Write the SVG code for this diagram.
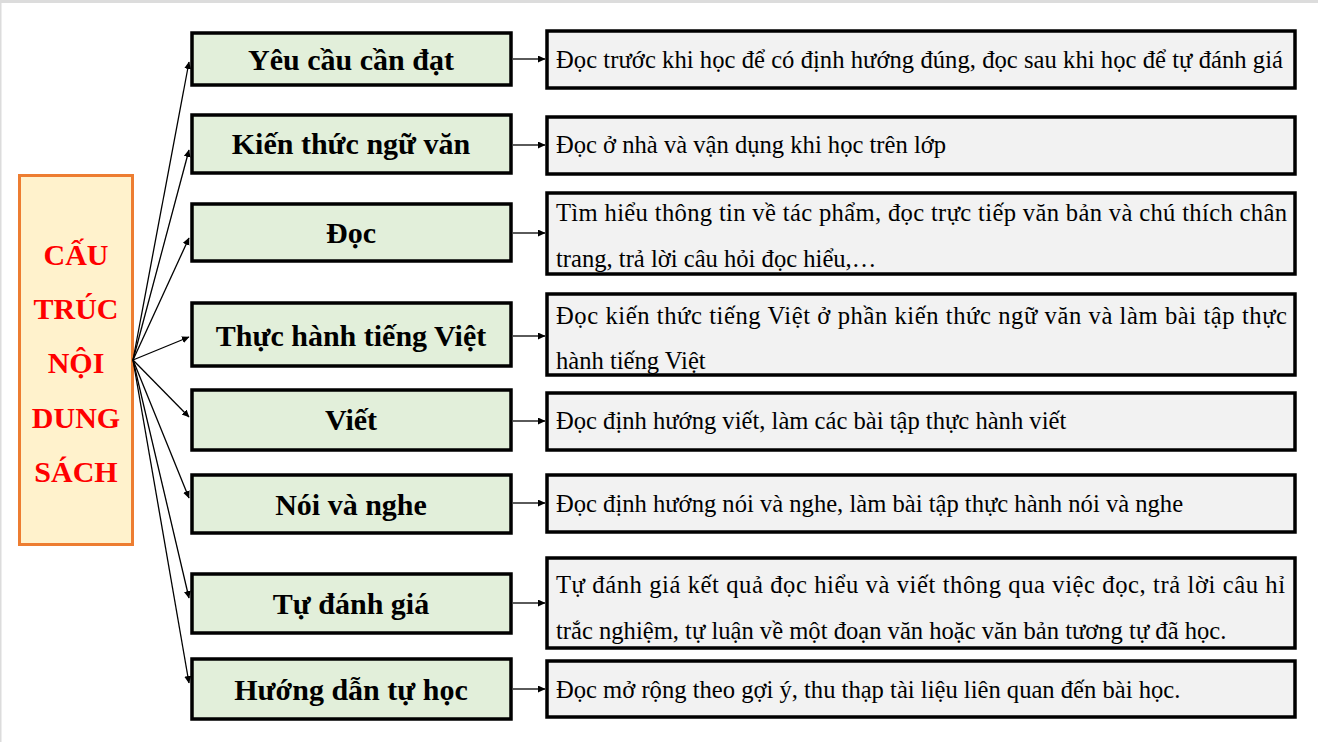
<svg xmlns="http://www.w3.org/2000/svg" width="1318" height="742" viewBox="0 0 1318 742">
<defs>
<marker id="ah" markerWidth="8" markerHeight="8" refX="7" refY="3.5" orient="auto" markerUnits="userSpaceOnUse">
<path d="M0,0 L7.5,3.5 L0,7 Z" fill="#000"/>
</marker>
<style>
.bg{fill:#fff}
.frame{fill:#dcdcdc}
.root{fill:#FFF2CC;stroke:#ED7D31;stroke-width:3}
.cat{fill:#E2EFDA;stroke:#000;stroke-width:3.5}
.desc{fill:#F2F2F2;stroke:#000;stroke-width:3.5}
.rt{font-family:"Liberation Serif","Times New Roman",serif;font-weight:bold;font-size:30px;fill:#FF0000;text-anchor:middle}
.ct{font-family:"Liberation Serif","Times New Roman",serif;font-weight:bold;font-size:30px;fill:#000;text-anchor:middle}
.dt{font-family:"Liberation Serif","Times New Roman",serif;font-size:24.6px;fill:#000}
.con line{stroke:#000;stroke-width:1.3;marker-end:url(#ah)}
</style>
</defs>
<rect class="bg" x="0" y="0" width="1318" height="742"/>
<rect class="frame" x="0" y="0" width="1318" height="3"/>
<rect class="frame" x="0" y="0" width="1.5" height="742"/>

<g id="root">
<rect class="root" x="19.5" y="175.5" width="113" height="369"/>
<text class="rt" x="76" y="265">CẤU</text>
<text class="rt" x="76" y="319">TRÚC</text>
<text class="rt" x="76" y="373">NỘI</text>
<text class="rt" x="76" y="428">DUNG</text>
<text class="rt" x="76" y="482">SÁCH</text>
</g>

<g id="cat1"><rect class="cat" x="192" y="33" width="319" height="52"/><text class="ct" x="351" y="70">Yêu cầu cần đạt</text></g>
<g id="cat2"><rect class="cat" x="192" y="115" width="319" height="58"/><text class="ct" x="351" y="154">Kiến thức ngữ văn</text></g>
<g id="cat3"><rect class="cat" x="192" y="204" width="319" height="57"/><text class="ct" x="351" y="243">Đọc</text></g>
<g id="cat4"><rect class="cat" x="192" y="303" width="319" height="63"/><text class="ct" x="351" y="346">Thực hành tiếng Việt</text></g>
<g id="cat5"><rect class="cat" x="192" y="390" width="319" height="60"/><text class="ct" x="351" y="430">Viết</text></g>
<g id="cat6"><rect class="cat" x="192" y="475" width="319" height="58"/><text class="ct" x="351" y="515">Nói và nghe</text></g>
<g id="cat7"><rect class="cat" x="192" y="574" width="319" height="59"/><text class="ct" x="351" y="614">Tự đánh giá</text></g>
<g id="cat8"><rect class="cat" x="192" y="659" width="319" height="60"/><text class="ct" x="351" y="700">Hướng dẫn tự học</text></g>

<g id="desc1"><rect class="desc" x="547" y="31" width="748" height="57"/><text class="dt" x="556" y="68" textLength="727">Đọc trước khi học để có định hướng đúng, đọc sau khi học để tự đánh giá</text></g>
<g id="desc2"><rect class="desc" x="547" y="117" width="748" height="57"/><text class="dt" x="556" y="153">Đọc ở nhà và vận dụng khi học trên lớp</text></g>
<g id="desc3"><rect class="desc" x="547" y="193" width="748" height="81"/><text class="dt" x="556" y="221" textLength="731">Tìm hiểu thông tin về tác phẩm, đọc trực tiếp văn bản và chú thích chân</text><text class="dt" x="556" y="267">trang, trả lời câu hỏi đọc hiểu,…</text></g>
<g id="desc4"><rect class="desc" x="547" y="294" width="748" height="81"/><text class="dt" x="556" y="324" textLength="731">Đọc kiến thức tiếng Việt ở phần kiến thức ngữ văn và làm bài tập thực</text><text class="dt" x="556" y="369">hành tiếng Việt</text></g>
<g id="desc5"><rect class="desc" x="547" y="393" width="748" height="57"/><text class="dt" x="556" y="429">Đọc định hướng viết, làm các bài tập thực hành viết</text></g>
<g id="desc6"><rect class="desc" x="547" y="475" width="748" height="57"/><text class="dt" x="556" y="512">Đọc định hướng nói và nghe, làm bài tập thực hành nói và nghe</text></g>
<g id="desc7"><rect class="desc" x="547" y="558" width="748" height="90"/><text class="dt" x="556" y="593" textLength="729">Tự đánh giá kết quả đọc hiểu và viết thông qua việc đọc, trả lời câu hỉ</text><text class="dt" x="556" y="639">trắc nghiệm, tự luận về một đoạn văn hoặc văn bản tương tự đã học.</text></g>
<g id="desc8"><rect class="desc" x="547" y="661" width="748" height="56"/><text class="dt" x="556" y="698">Đọc mở rộng theo gợi ý, thu thạp tài liệu liên quan đến bài học.</text></g>

<g id="connectors" class="con">
<line x1="133" y1="360" x2="189" y2="62"/>
<line x1="133" y1="360" x2="189" y2="150"/>
<line x1="133" y1="360" x2="189" y2="238"/>
<line x1="133" y1="360" x2="189" y2="337"/>
<line x1="133" y1="360" x2="189" y2="417"/>
<line x1="133" y1="360" x2="189" y2="498"/>
<line x1="133" y1="360" x2="189" y2="598"/>
<line x1="133" y1="360" x2="189" y2="683"/>
<line x1="513" y1="59" x2="545" y2="59"/>
<line x1="513" y1="145" x2="545" y2="145"/>
<line x1="513" y1="233" x2="545" y2="233"/>
<line x1="513" y1="336" x2="545" y2="336"/>
<line x1="513" y1="421" x2="545" y2="421"/>
<line x1="513" y1="503" x2="545" y2="503"/>
<line x1="513" y1="603" x2="545" y2="603"/>
<line x1="513" y1="689" x2="545" y2="689"/>
</g>
</svg>
